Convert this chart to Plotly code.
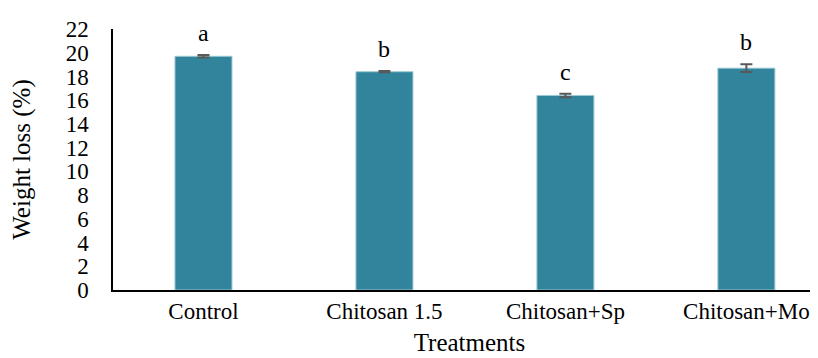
import plotly.graph_objects as go

categories = ["Control", "Chitosan 1.5", "Chitosan+Sp", "Chitosan+Mo"]
weight_loss = [19.7, 18.4, 16.4, 18.7]
std_err = [0.1, 0.05, 0.15, 0.33]
letters = ["a", "b", "c", "b"]
y_ticks = list(range(0, 23, 2))

FONT = "Liberation Serif, Times New Roman, serif"

fig = go.Figure()
fig.add_trace(go.Bar(
    x=categories, y=weight_loss,
    marker=dict(color="#31849B", line=dict(color="#9cc9d4", width=1)),
    width=0.315,
    error_y=dict(type="data", array=std_err, visible=True, color="#595959", thickness=2, width=6),
))

for c, v, e, l in zip(categories, weight_loss, std_err, letters):
    fig.add_annotation(x=c, y=v + e, text=l, showarrow=False, yanchor="bottom", yshift=7,
                       font=dict(family=FONT, size=24, color="black"))

fig.update_layout(
    width=818, height=358,
    margin=dict(l=105, r=0, t=21, b=76, autoexpand=False),
    plot_bgcolor="white", paper_bgcolor="white",
    showlegend=False,
    font=dict(family=FONT, color="black"),
)
fig.update_xaxes(
    range=[-0.5, 3.44], showline=True, linecolor="black", linewidth=1.5,
    ticks="", tickfont=dict(family=FONT, size=23, color="black"),
    ticklabelstandoff=0, automargin=False,
    title=dict(text="Treatments", font=dict(family=FONT, size=25, color="black"), standoff=10),
    showgrid=False,
)
fig.update_yaxes(
    range=[0, 22], tickvals=y_ticks, ticktext=[str(t) for t in y_ticks],
    showline=True, linecolor="black", linewidth=1.5, ticks="",
    tickfont=dict(family=FONT, size=23, color="black"),
    ticklabelstandoff=18, automargin=False,
    title=dict(text="Weight loss (%)", font=dict(family=FONT, size=25, color="black"), standoff=28),
    showgrid=False, zeroline=False,
)

fig.write_html("out.html")
